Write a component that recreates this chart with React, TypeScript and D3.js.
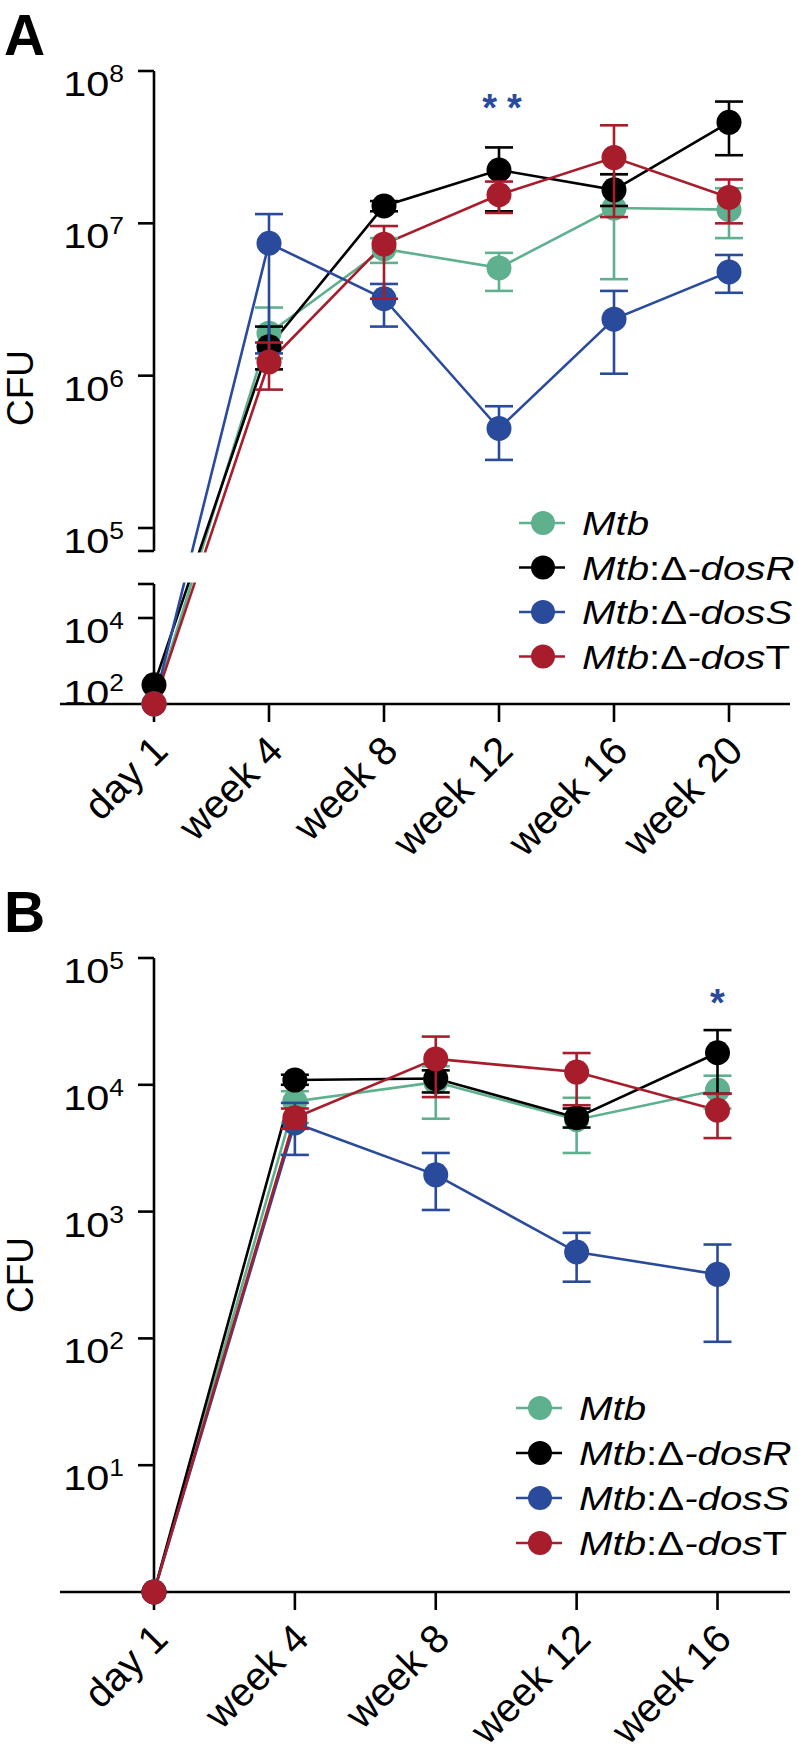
import React from "react";
import * as d3 from "d3";

// ---------- DATA ----------
const seriesNames = ["Mtb", "dosR", "dosS", "dosT"];
const seriesColors = ["#5fb08e", "#000000", "#2a4b9b", "#a71d2c"];

// Panel A
const catsA = ["day 1", "week 4", "week 8", "week 12", "week 16", "week 20"];
const meanA_Mtb = [17, 1.9e6, 6.8e6, 5.1e6, 1.26e7, 1.23e7];
const lowA_Mtb = [17, 1.3e6, 5.5e6, 3.6e6, 4.3e6, 8.0e6];
const highA_Mtb = [17, 2.8e6, 8.0e6, 6.4e6, 2.1e7, 1.7e7];
const meanA_dosR = [70, 1.55e6, 1.3e7, 2.24e7, 1.66e7, 4.6e7];
const lowA_dosR = [70, 1.1e6, 1.2e7, 1.2e7, 1.3e7, 2.8e7];
const highA_dosR = [70, 2.1e6, 1.4e7, 3.15e7, 2.1e7, 6.3e7];
const meanA_dosS = [17, 7.4e6, 3.2e6, 4.5e5, 2.35e6, 4.8e6];
const lowA_dosS = [17, 1.4e6, 2.1e6, 2.8e5, 1.03e6, 3.5e6];
const highA_dosS = [17, 1.15e7, 4.0e6, 6.3e5, 3.6e6, 6.2e6];
const meanA_dosT = [17, 1.23e6, 7.3e6, 1.54e7, 2.7e7, 1.48e7];
const lowA_dosT = [17, 8.1e5, 3.2e6, 1.17e7, 1.1e7, 1.0e7];
const highA_dosT = [17, 1.65e6, 9.6e6, 1.88e7, 4.4e7, 1.94e7];
const ticksA_upper = [1e5, 1e6, 1e7, 1e8];
const ticksA_lower = [1e4];
const labelsA = [
  { v: 1e8, exp: "8" },
  { v: 1e7, exp: "7" },
  { v: 1e6, exp: "6" },
  { v: 1e5, exp: "5" },
  { v: 1e4, exp: "4" },
  { v: 1e2, exp: "2" },
];

// Panel B
const catsB = ["day 1", "week 4", "week 8", "week 12", "week 16"];
const meanB_Mtb = [1, 7.4e3, 1.05e4, 5.3e3, 9.1e3];
const lowB_Mtb = [1, 5.0e3, 5.4e3, 2.9e3, 6.5e3];
const highB_Mtb = [1, 8.9e3, 1.4e4, 7.9e3, 1.18e4];
const meanB_dosR = [1, 1.09e4, 1.12e4, 5.5e3, 1.79e4];
const lowB_dosR = [1, 1.0e4, 8.7e3, 4.6e3, 8.5e3];
const highB_dosR = [1, 1.2e4, 1.3e4, 6.5e3, 2.7e4];
const meanB_dosS = [1, 5.0e3, 1.95e3, 480, 320];
const lowB_dosS = [1, 2.8e3, 1.03e3, 280, 94];
const highB_dosS = [1, 7.2e3, 2.9e3, 680, 550];
const meanB_dosT = [1, 5.5e3, 1.6e4, 1.26e4, 6.3e3];
const lowB_dosT = [1, 4.5e3, 8.0e3, 6.9e3, 3.8e3];
const highB_dosT = [1, 6.5e3, 2.4e4, 1.78e4, 8.5e3];
const ticksB = [1e1, 1e2, 1e3, 1e4, 1e5];

// ---------- STYLE ----------
const FONT = "'Liberation Sans', Arial, Helvetica, sans-serif";
const SX = 1.15;
const R = 12.5;
const SW = 2.6;
const CAP = 14;

type Series = { mean: number[]; low: number[]; high: number[] };
const seriesA: Series[] = [
  { mean: meanA_Mtb, low: lowA_Mtb, high: highA_Mtb },
  { mean: meanA_dosR, low: lowA_dosR, high: highA_dosR },
  { mean: meanA_dosS, low: lowA_dosS, high: highA_dosS },
  { mean: meanA_dosT, low: lowA_dosT, high: highA_dosT },
];
const seriesB: Series[] = [
  { mean: meanB_Mtb, low: lowB_Mtb, high: highB_Mtb },
  { mean: meanB_dosR, low: lowB_dosR, high: highB_dosR },
  { mean: meanB_dosS, low: lowB_dosS, high: highB_dosS },
  { mean: meanB_dosT, low: lowB_dosT, high: highB_dosT },
];

function TickLabel({ x, y, exp }: { x: number; y: number; exp: string }) {
  return (
    <text
      transform={`translate(${x},${y + 25}) scale(${SX},1)`}
      textAnchor="end"
      fontSize={36}
      fontFamily={FONT}
    >
      10
      <tspan dy={-14} fontSize={23}>
        {exp}
      </tspan>
    </text>
  );
}

function LegendLabel({ name }: { name: string }) {
  if (name === "Mtb") return <tspan fontStyle="italic">Mtb</tspan>;
  const last = name.slice(-1);
  return (
    <>
      <tspan fontStyle="italic">Mtb</tspan>
      <tspan>:Δ</tspan>
      <tspan fontStyle="italic">-dos</tspan>
      <tspan fontStyle={last === "T" ? "normal" : "italic"}>{last}</tspan>
    </>
  );
}

function Legend({ x, y0, dy }: { x: number; y0: number; dy: number }) {
  return (
    <g>
      {seriesNames.map((n, i) => {
        const y = y0 + i * dy;
        return (
          <g key={n}>
            <line x1={x - 24} x2={x + 22} y1={y} y2={y} stroke={seriesColors[i]} strokeWidth={SW} />
            <circle cx={x} cy={y} r={12} fill={seriesColors[i]} />
            <text
              transform={`translate(${x + 39},${y + 12}) scale(1.22,1)`}
              fontSize={33}
              fontFamily={FONT}
            >
              <LegendLabel name={n} />
            </text>
          </g>
        );
      })}
    </g>
  );
}

function SeriesLines({
  series,
  cats,
  xs,
  ys,
}: {
  series: Series[];
  cats: string[];
  xs: d3.ScalePoint<string>;
  ys: (v: number) => number;
}) {
  const line = d3
    .line<number>()
    .x((_, i) => xs(cats[i]) as number)
    .y((d) => ys(d));
  return (
    <g>
      {series.map((s, si) => (
        <path key={si} d={line(s.mean) || ""} fill="none" stroke={seriesColors[si]} strokeWidth={SW} />
      ))}
    </g>
  );
}

function SeriesPoints({
  series,
  cats,
  xs,
  ys,
}: {
  series: Series[];
  cats: string[];
  xs: d3.ScalePoint<string>;
  ys: (v: number) => number;
}) {
  return (
    <g>
      {series.map((s, si) => (
        <g key={si}>
          {s.mean.map((m, i) => {
            const x = xs(cats[i]) as number;
            const hasErr = s.low[i] !== m || s.high[i] !== m;
            return (
              <g key={i}>
                {hasErr && (
                  <g stroke={seriesColors[si]} strokeWidth={SW}>
                    <line x1={x} x2={x} y1={ys(s.low[i])} y2={ys(s.high[i])} />
                    <line x1={x - CAP} x2={x + CAP} y1={ys(s.low[i])} y2={ys(s.low[i])} />
                    <line x1={x - CAP} x2={x + CAP} y1={ys(s.high[i])} y2={ys(s.high[i])} />
                  </g>
                )}
                <circle cx={x} cy={ys(m)} r={R} fill={seriesColors[si]} />
              </g>
            );
          })}
        </g>
      ))}
    </g>
  );
}

function XAxis({
  cats,
  xs,
  y,
}: {
  cats: string[];
  xs: d3.ScalePoint<string>;
  y: number;
}) {
  return (
    <g>
      <line x1={60} x2={790} y1={y} y2={y} stroke="#000" strokeWidth={SW} />
      {cats.map((c) => {
        const x = xs(c) as number;
        return (
          <g key={c}>
            <line x1={x} x2={x} y1={y} y2={y + 18} stroke="#000" strokeWidth={SW} />
            <text
              transform={`translate(${x + 16},${y + 49}) rotate(-45)`}
              textAnchor="end"
              fontSize={40}
              fontFamily={FONT}
            >
              {c}
            </text>
          </g>
        );
      })}
    </g>
  );
}

export default function App() {
  // Panel A scales (broken axis)
  const xA = d3.scalePoint<string>().domain(catsA).range([154, 729]);
  const yAup = d3.scaleLog().domain([1e5, 1e8]).range([528, 71]);
  const yAlow = d3.scaleLog().domain([1e2, 1e4]).range([680, 618]);
  const yA = (v: number) => (v >= 7e4 ? yAup(v) : yAlow(v));
  const axisAY = 704;
  const breakTop = 551;
  const breakBot = 584;

  // Panel B scales
  const xB = d3.scalePoint<string>().domain(catsB).range([154, 717.5]);
  const yB = d3.scaleLog().domain([1, 1e5]).range([1592, 958]);
  const axisBY = 1592;

  const axX = 154;

  return (
    <svg
      width={799}
      height={1754}
      style={{ position: "absolute", left: 0, top: 0, display: "block", background: "#fff" }}
    >
      <rect x={0} y={0} width={799} height={1754} fill="#fff" />

      {/* ===== Panel A ===== */}
      <text x={4} y={55} fontSize={57} fontWeight="bold" fontFamily={FONT}>
        A
      </text>
      <text
        transform={`translate(33,388) rotate(-90)`}
        textAnchor="middle"
        fontSize={37}
        fontFamily={FONT}
      >
        CFU
      </text>

      <SeriesLines series={seriesA} cats={catsA} xs={xA} ys={yA} />
      <rect x={axX + 2} y={breakTop + 1.5} width={640} height={breakBot - breakTop - 3} fill="#fff" />

      <g stroke="#000" strokeWidth={SW}>
        <line x1={axX} x2={axX} y1={yAup(1e8)} y2={breakTop} />
        <line x1={axX - 16} x2={axX} y1={breakTop} y2={breakTop} />
        <line x1={axX} x2={axX} y1={breakBot} y2={axisAY} />
        <line x1={axX - 16} x2={axX} y1={breakBot} y2={breakBot} />
        {ticksA_upper.map((t) => (
          <line key={t} x1={axX - 16} x2={axX} y1={yAup(t)} y2={yAup(t)} />
        ))}
        {ticksA_lower.map((t) => (
          <line key={t} x1={axX - 16} x2={axX} y1={yAlow(t)} y2={yAlow(t)} />
        ))}
      </g>
      {labelsA.map((l) => (
        <TickLabel key={l.exp} x={124} y={yA(l.v)} exp={l.exp} />
      ))}

      <XAxis cats={catsA} xs={xA} y={axisAY} />
      <SeriesPoints series={seriesA} cats={catsA} xs={xA} ys={yA} />

      <text
        x={(xA("week 12") as number) + 8}
        y={121}
        textAnchor="middle"
        fontSize={38}
        fontWeight="bold"
        letterSpacing={10}
        fill={seriesColors[2]}
        fontFamily={FONT}
      >
        **
      </text>

      <Legend x={543} y0={523} dy={44.5} />

      {/* ===== Panel B ===== */}
      <text x={4} y={932} fontSize={57} fontWeight="bold" fontFamily={FONT}>
        B
      </text>
      <text
        transform={`translate(33,1275) rotate(-90)`}
        textAnchor="middle"
        fontSize={37}
        fontFamily={FONT}
      >
        CFU
      </text>

      <SeriesLines series={seriesB} cats={catsB} xs={xB} ys={yB} />

      <g stroke="#000" strokeWidth={SW}>
        <line x1={axX} x2={axX} y1={yB(1e5)} y2={axisBY} />
        {ticksB.map((t) => (
          <line key={t} x1={axX - 16} x2={axX} y1={yB(t)} y2={yB(t)} />
        ))}
      </g>
      {ticksB.map((t) => (
        <TickLabel key={t} x={124} y={yB(t)} exp={String(Math.round(Math.log10(t)))} />
      ))}

      <XAxis cats={catsB} xs={xB} y={axisBY} />
      <SeriesPoints series={seriesB} cats={catsB} xs={xB} ys={yB} />

      <text
        x={xB("week 16") as number}
        y={1016}
        textAnchor="middle"
        fontSize={38}
        fontWeight="bold"
        fill={seriesColors[2]}
        fontFamily={FONT}
      >
        *
      </text>

      <Legend x={540} y0={1408} dy={45} />
    </svg>
  );
}
